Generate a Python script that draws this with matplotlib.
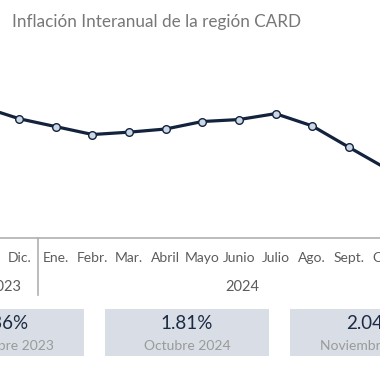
import matplotlib
matplotlib.use("Agg")
import matplotlib.pyplot as plt
from matplotlib.patches import Rectangle

# data (Nov 2023 -> Nov 2024, interannual inflation %)
months = ["Nov.", "Dic.", "Ene.", "Febr.", "Mar.", "Abril", "Mayo", "Junio",
          "Julio", "Ago.", "Sept.", "Oct.", "Nov."]
inflation = [3.36, 3.06, 2.86, 2.66, 2.72, 2.80, 2.99, 3.04, 3.19, 2.88, 2.34, 1.81, 2.04]
years = ["2023", "2024"]
year_span = [(0, 1), (2, 12)]
box_values = ["3.36%", "1.81%", "2.04%"]
box_labels = ["Noviembre 2023", "Octubre 2024", "Noviembre 2024"]

FONT = "Lato"
W = H = 380

fig = plt.figure(figsize=(3.8, 3.8), dpi=100)
fig.patch.set_facecolor("white")

# main axes covers the whole width, chart is cut on both sides
ax_top = 40
ax_bot = 237.7
ax = fig.add_axes([0, 1 - ax_bot / H, 1, (ax_bot - ax_top) / H])
x = list(range(len(months)))
ax.plot(x, inflation, color="#14233d", lw=2.3, marker="o", ms=5.5,
        mfc="#cdd8e6", mec="#14233d", mew=1.0, zorder=3)
ax.set_xlim(0.473, 10.855)
ax.set_ylim(0.04, 5.06)
ax.set_yticks([])
ax.set_xticks([])
for s in ["top", "left", "right"]:
    ax.spines[s].set_visible(False)
ax.spines["bottom"].set_color("#b0b0b0")
ax.spines["bottom"].set_linewidth(1.2)
ax.set_facecolor("none")

# month labels and year labels
trans = ax.get_xaxis_transform()
h_ax = ax_bot - ax_top
for i, m in enumerate(months):
    ax.text(i, -(257.7 - ax_bot) / h_ax, m, transform=trans, ha="center", va="center",
            fontsize=10, color="#5c5c5c", family=FONT, clip_on=False)
for yr, (a, b) in zip(years, year_span):
    ax.text((a + b) / 2 + 0.08, -(286.7 - ax_bot) / h_ax, yr, transform=trans, ha="center",
            va="center", fontsize=10.5, color="#5c5c5c", family=FONT, clip_on=False)
ax.plot([1.5, 1.5], [0, -(295 - ax_bot) / h_ax], transform=trans, color="#b0b0b0",
        lw=1.2, clip_on=False)

fig.text(12 / W, 1 - 21.7 / H, "Inflación Interanual de la región CARD", ha="left",
         va="center", fontsize=12.3, color="#777777", family=FONT)

# summary boxes
box_x = [-80, 105, 290]
for bx, val, lab in zip(box_x, box_values, box_labels):
    fig.patches.append(Rectangle((bx / W, 1 - 355.5 / H), 164 / W, 46.5 / H,
                                 transform=fig.transFigure, facecolor="#d9dee6",
                                 edgecolor="none"))
    fig.text((bx + 82) / W, 1 - 323.5 / H, val, ha="center", va="center",
             fontsize=13.5, color="#1c2a44", family=FONT)
    fig.text((bx + 82) / W, 1 - 345.5 / H, lab, ha="center", va="center",
             fontsize=10, color="#9a9a9a", family=FONT)

fig.savefig("out.png", dpi=100)
